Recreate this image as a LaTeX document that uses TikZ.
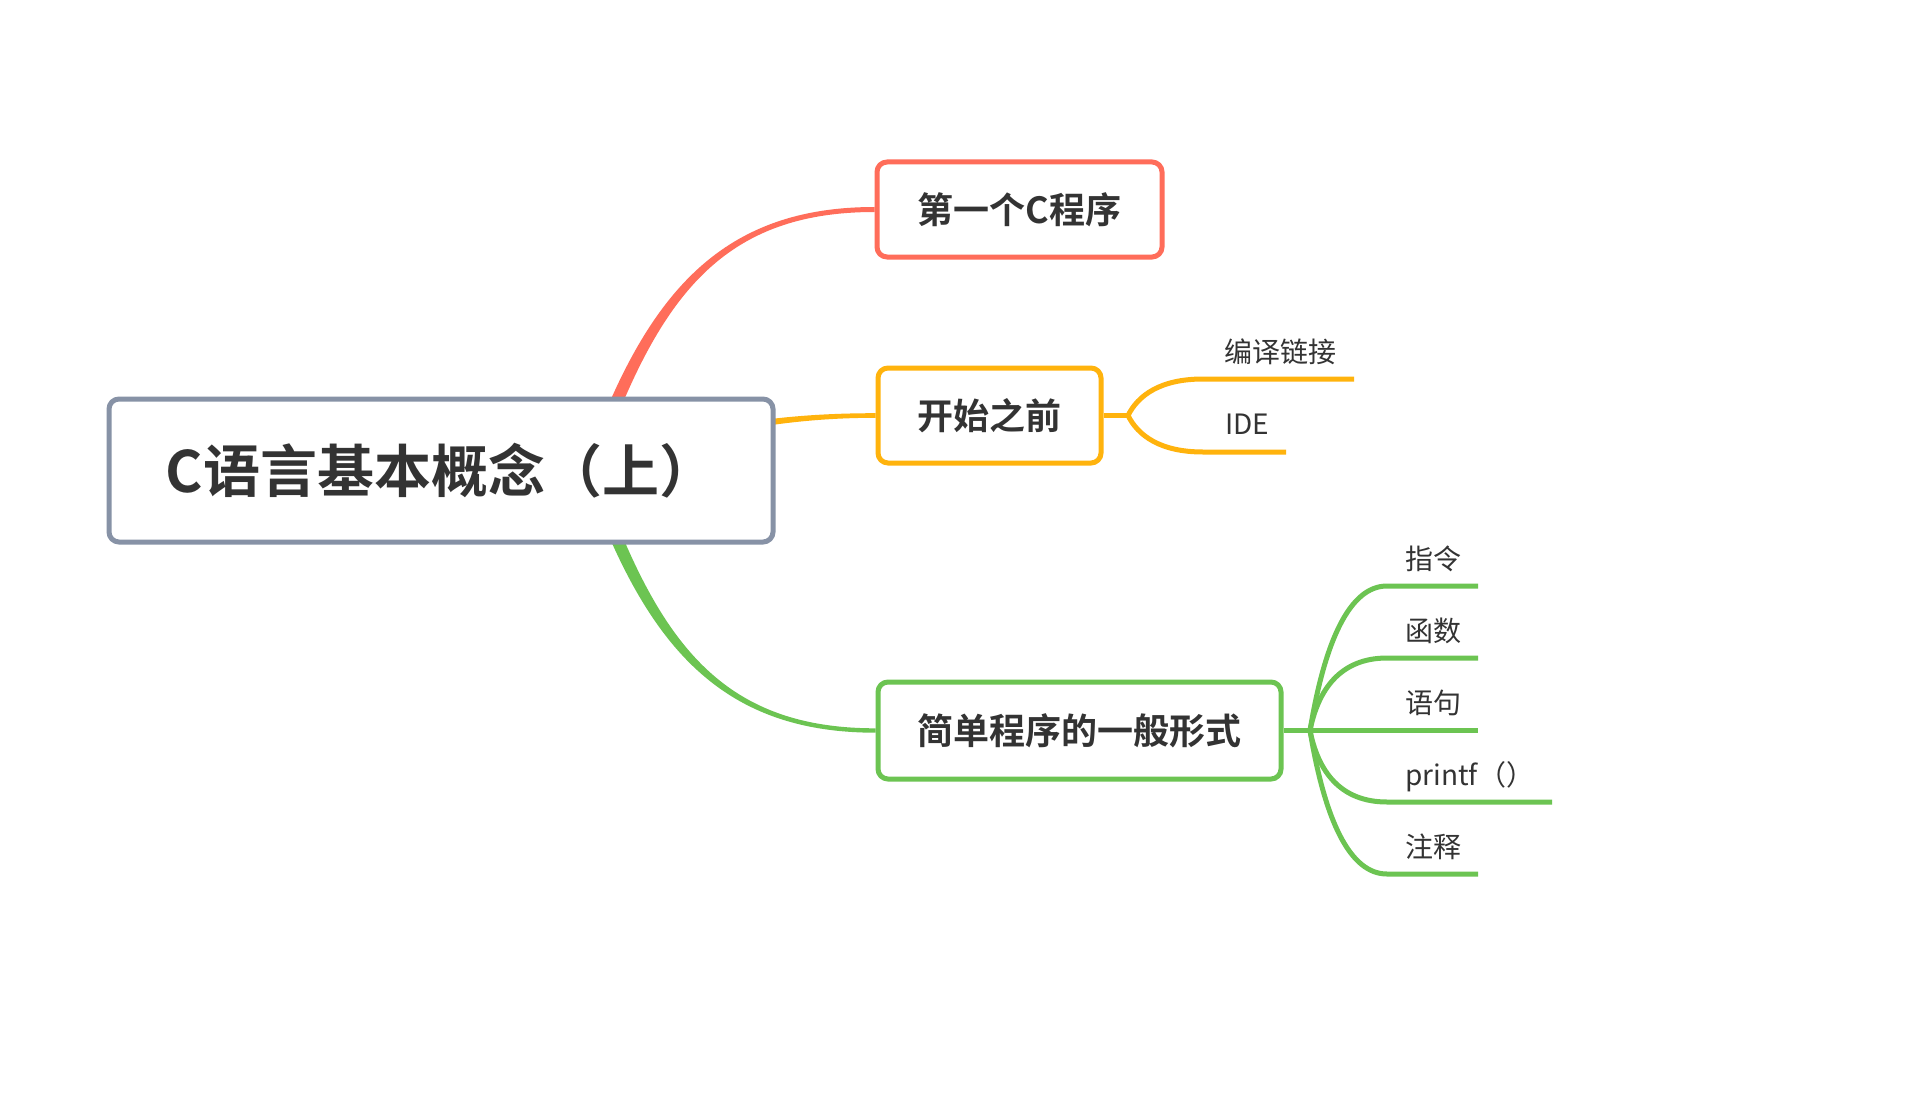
\documentclass[tikz,border=0pt]{standalone}
\usepackage{fontspec}
\setmainfont{Noto Sans CJK SC}[BoldFont={Noto Sans CJK SC Bold}]
\usetikzlibrary{calc,backgrounds}
\definecolor{cred}{HTML}{FF6D5A}
\definecolor{cyel}{HTML}{FFB30D}
\definecolor{cgrn}{HTML}{6CC452}
\definecolor{cgry}{HTML}{8792A6}
\definecolor{ctxt}{HTML}{333333}
\begin{document}
\begin{tikzpicture}[x=0.5pt,y=-0.5pt,
  topic/.style={draw, line width=2.5pt, rounded corners=5pt, fill=white, text=ctxt,
    inner sep=0pt, font=\bfseries\fontsize{18pt}{22pt}\selectfont},
  roottopic/.style={topic, draw=cgry, font=\bfseries\fontsize{28.5pt}{34pt}\selectfont},
  sublabel/.style={anchor=base west, inner sep=0pt, text=ctxt, font=\fontsize{14pt}{17pt}\selectfont},
  subline/.style={line width=2.5pt},
]
\useasboundingbox (0,0) rectangle (1909,1107);

% topics
\node[roottopic, minimum width=332pt, minimum height=71.5pt] (root) at (441,470.5) {C语言基本概念（上）};
\node[topic, draw=cred, minimum width=142.5pt, minimum height=47.5pt] (b1) at (1019.5,209.5) {第一个C程序};
\node[topic, draw=cyel, minimum width=111.5pt, minimum height=47.5pt] (b2) at (989.5,415.5) {开始之前};
\node[topic, draw=cgrn, minimum width=201.5pt, minimum height=48.5pt] (b3) at (1079.5,730.5) {简单程序的一般形式};

\coordinate (rs) at (590,470);

\begin{pgfonlayer}{background}
\fill[white] (0,0) rectangle (1909,1107);
% red tapered branch
\fill[cred] ($(rs)+(6.1,2.2)$) .. controls ($(rs)+(66.1,-167.8)$) and ($(b1.west)+(-157,2.5)$) .. ($(b1.west)+(0,2.5)$)
  -- ($(b1.west)+(0,-2.5)$) .. controls ($(b1.west)+(-157,-2.5)$) and ($(rs)+(53.9,-172.2)$) .. ($(rs)+(-6.1,-2.2)$) -- cycle;
% green tapered branch
\fill[cgrn] ($(rs)+(6.1,-2.2)$) .. controls ($(rs)+(66.1,167.8)$) and ($(b3.west)+(-158,-2.2)$) .. ($(b3.west)+(0,-2.2)$)
  -- ($(b3.west)+(0,2.2)$) .. controls ($(b3.west)+(-158,2.2)$) and ($(rs)+(53.9,172.2)$) .. ($(rs)+(-6.1,2.2)$) -- cycle;
% yellow tapered branch
\fill[cyel] ($(rs)+(1.7,4.2)$) .. controls ($(rs)+(111.7,-40.8)$) and ($(b2.west)+(-77,2.3)$) .. ($(b2.west)+(0,2.3)$)
  -- ($(b2.west)+(0,-2.3)$) .. controls ($(b2.west)+(-77,-2.3)$) and ($(rs)+(108.3,-49.2)$) .. ($(rs)+(-1.7,-4.2)$) -- cycle;
\end{pgfonlayer}

% yellow sub-branches
\coordinate (yb) at (1128,415.5);
\coordinate (y1) at (1354,379);
\coordinate (y2) at (1286,452);
\draw[subline, cyel] (b2.east) -- (yb);
\draw[subline, cyel] (yb) .. controls ($(yb)+(10,-20)$) and (1160,379) .. (1203,379) -- (y1);
\draw[subline, cyel] (yb) .. controls ($(yb)+(10,20)$) and (1160,452) .. (1203,452) -- (y2);
\node[sublabel] (s1) at (1224,362) {编译链接};
\node[sublabel] (s2) at (1225,434) {IDE};

% green sub-branches
\coordinate (gb) at (1310,730.5);
\coordinate (g1) at (1478,586);
\coordinate (g2) at (1478,658);
\coordinate (g3) at (1478,730.5);
\coordinate (g4) at (1552,802);
\coordinate (g5) at (1478,874);
\draw[subline, cgrn] (b3.east) -- (gb);
\draw[subline, cgrn] (gb) .. controls (1325,640) and (1350,586) .. (1387,586) -- (g1);
\draw[subline, cgrn] (gb) .. controls (1318,690) and (1340,658) .. (1387,658) -- (g2);
\draw[subline, cgrn] (gb) -- (g3);
\draw[subline, cgrn] (gb) .. controls (1318,771) and (1340,802) .. (1387,802) -- (g4);
\draw[subline, cgrn] (gb) .. controls (1325,821) and (1350,874) .. (1387,874) -- (g5);
\node[sublabel] (c1) at (1405,569) {指令};
\node[sublabel] (c2) at (1405,641) {函数};
\node[sublabel] (c3) at (1405,713) {语句};
\node[sublabel] (c4) at (1405,785) {printf（）};
\node[sublabel] (c5) at (1405,857) {注释};
\end{tikzpicture}
\end{document}
